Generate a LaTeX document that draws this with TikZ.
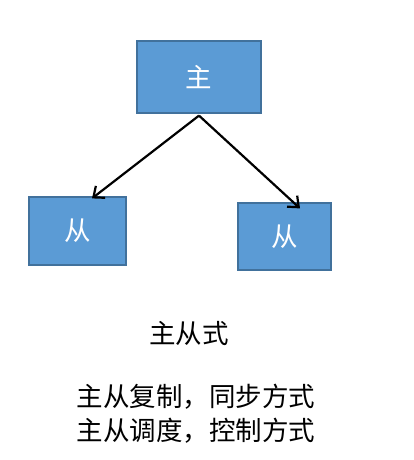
\documentclass[tikz,border=0pt]{standalone}
\usepackage{fontspec}
\usepackage{xcolor}
\usepackage{tikz}
\usetikzlibrary{arrows.meta, positioning, calc}
\setmainfont{Noto Sans CJK SC}

\definecolor{boxfill}{HTML}{5B9BD5}
\definecolor{boxline}{HTML}{41719C}

\begin{document}
\begin{tikzpicture}[
		x=1pt, y=-1pt,
		font=\fontsize{26.5}{34}\selectfont,
		box/.style={draw=boxline, line width=1.2pt, fill=boxfill, text=white, inner sep=0pt},
		link/.style={-{Straight Barb[length=9pt, width=15pt]}, line width=2.2pt}
		]
		
		% Frame
		\useasboundingbox (0,0) rectangle (414,460);
		
		% Master
		\node[box, minimum width=124pt, minimum height=72pt] (master) at (199,77) {主};
		
		% Slaves
		\node[box, minimum width=97pt, minimum height=68pt] (slaveL) at (77.5,231) {从};
		\node[box, minimum width=93pt, minimum height=67pt] (slaveR) at (284.5,236.5) {从};
		
		% Links
		\draw[link] ([yshift=-2]master.south) -- ([xshift=14.5, yshift=-2]slaveL.north);
		\draw[link] ([yshift=-2]master.south) -- ([xshift=15.5, yshift=-6]slaveR.north);
		
		% Captions
		\node (title) at (189,334) {主从式};
		\node[align=center] (notes) at (196,414) {主从复制，同步方式\\主从调度，控制方式};
		
	\end{tikzpicture}
\end{document}
